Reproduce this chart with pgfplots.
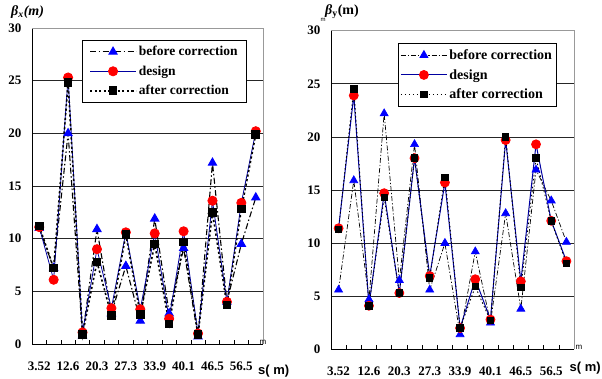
\documentclass[border=0pt]{standalone}
\usepackage{pgfplots}
\usepackage{pgfplotstable}
\pgfplotsset{compat=1.18}
\usepackage{fontspec}
\setmainfont{Liberation Serif}
\setsansfont{Liberation Sans}
\definecolor{navy}{RGB}{0,0,160}
\definecolor{triblue}{RGB}{0,0,255}
\pgfplotstableread{
x    before design after
0.5  11.0  11.1  11.2
1.5  7.2   6.1   7.2
2.5  20.0  25.3  24.8
3.5  0.8   1.1   0.9
4.5  10.9  9.0   7.8
5.5  2.9   3.4   2.7
6.5  7.4   10.6  10.4
7.5  2.2   3.3   2.8
8.5  11.9  10.5  9.5
9.5  2.9   2.4   1.9
10.5 9.1   10.7  9.7
11.5 0.7   1.0   0.9
12.5 17.2  13.6  12.5
13.5 4.0   4.0   3.7
14.5 9.5   13.4  12.8
15.5 13.9  20.2  19.9
}\betax
\pgfplotstableread{
x    before design after
0.5  5.6   11.4  11.3
1.5  15.9  23.9  24.5
2.5  4.7   4.1   4.1
3.5  22.2  14.7  14.3
4.5  6.5   5.3   5.3
5.5  19.3  18.0  18.0
6.5  5.6   6.9   6.7
7.5  10.0  15.7  16.2
8.5  1.4   2.0   2.0
9.5  9.2   6.6   5.9
10.5 2.5   2.8   2.7
11.5 12.8  19.7  20.0
12.5 3.8   6.4   5.8
13.5 16.9  19.3  18.0
14.5 14.0  12.1  12.1
15.5 10.1  8.3   8.1
}\betay
\begin{document}
\begin{tikzpicture}[x=1pt,y=1pt]
\useasboundingbox (0,0) rectangle (602,378);
\pgfplotsset{
  betaaxis/.style={
    scale only axis,
    anchor=south west,
    xmin=0, xmax=16, ymin=0, ymax=30,
    axis x line*=bottom, axis y line*=left,
    axis line style={black, line width=0.8pt},
    xtick={0,...,16}, xticklabels={},
    x tick style={black, line width=0.6pt},
    major tick length=4pt,
    tick align=inside,
    extra x ticks={0.5,2.5,...,14.5},
    extra x tick labels={3.52,12.6,20.3,27.3,33.9,40.1,46.5,56.5},
    extra x tick style={major tick length=0pt, grid=none, tick label style={yshift=-14pt}},
    ytick={0,5,...,30},
    y tick style={draw=none},
    ymajorgrids,
    major grid style={black!85, line width=0.7pt},
    tick label style={font=\bfseries\fontsize{13}{15}\selectfont},
    yticklabel style={xshift=-7pt},
    /pgf/number format/assume math mode=true,
    legend cell align=left,
    legend style={draw=black, line width=0.7pt, font=\bfseries\fontsize{13.5}{15}\selectfont, row sep=4.5pt, inner ysep=4pt, anchor=north west},
    legend image code/.code={\draw[mark repeat=2,mark phase=2,##1] plot coordinates {(0pt,0pt) (23pt,0pt) (46pt,0pt)};},
    clip=false,
    after end axis/.code={\draw[gray!80, line width=0.8pt] (rel axis cs:0,1) -- (rel axis cs:1,1) -- (rel axis cs:1,0);},
  },
}
% left chart
\begin{axis}[betaaxis, at={(32pt,34pt)}, width=231pt, height=316pt,
  legend style={at={(0.216,0.962)}, inner xsep=7pt}]
\addplot[black, line width=1.1pt, dash pattern=on 6pt off 2.5pt on 1.5pt off 2.5pt,
  mark=triangle*, mark size=4.6pt, mark options={solid, fill=triblue, draw=triblue}]
  table[x=x, y=before] {\betax};
\addlegendentry{before correction}
\addplot[navy, line width=0.8pt, mark=*, mark size=4.6pt, mark options={solid, fill=red, draw=red}]
  table[x=x, y=design] {\betax};
\addlegendentry{design}
\addplot[black, line width=1.6pt, dash pattern=on 2.2pt off 2.4pt,
  mark=square*, mark size=3.5pt, mark options={solid, fill=black}]
  table[x=x, y=after] {\betax};
\addlegendentry{after correction}
\end{axis}
% right chart
\begin{axis}[betaaxis, at={(331pt,28.7pt)}, width=243pt, height=318.6pt,
  legend style={at={(0.276,0.961)}, inner xsep=2pt, font=\bfseries\fontsize{14}{16}\selectfont}]
\addplot[black, line width=0.7pt, dash pattern=on 5pt off 2pt on 1.2pt off 2pt,
  mark=triangle*, mark size=4.6pt, mark options={solid, fill=triblue, draw=triblue}]
  table[x=x, y=before] {\betay};
\addlegendentry{before correction}
\addplot[navy, line width=1pt, mark=*, mark size=4.4pt, mark options={solid, fill=red, draw=red}]
  table[x=x, y=design] {\betay};
\addlegendentry{design}
\addplot[black, line width=0.9pt, dash pattern=on 1.5pt off 2.5pt,
  mark=square*, mark size=3.2pt, mark options={solid, fill=black}]
  table[x=x, y=after] {\betay};
\addlegendentry{after correction}
\end{axis}
% labels
\node[anchor=west, inner sep=0pt, font=\bfseries\itshape\fontsize{14}{16}\selectfont] at (11pt,366pt) {β\textsubscript{x}(m)};
\node[anchor=west, inner sep=0pt, font=\bfseries\fontsize{14}{16}\selectfont] at (325pt,366pt) {\textit{β}\textsubscript{y}(m)};
\node[inner sep=0pt, font=\sffamily\fontsize{6}{7}\selectfont] at (323pt,358pt) {m};
\node[inner sep=0pt, font=\sffamily\fontsize{8}{9}\selectfont] at (263pt,36pt) {m};
\node[inner sep=0pt, font=\sffamily\fontsize{8}{9}\selectfont] at (579pt,31pt) {m};
\node[anchor=west, inner sep=0pt, font=\sffamily\bfseries\fontsize{13}{15}\selectfont] at (258pt,7pt) {s( m)};
\node[anchor=east, inner sep=0pt, font=\sffamily\bfseries\fontsize{13}{15}\selectfont] at (601pt,10pt) {s( m)};
\end{tikzpicture}
\end{document}
